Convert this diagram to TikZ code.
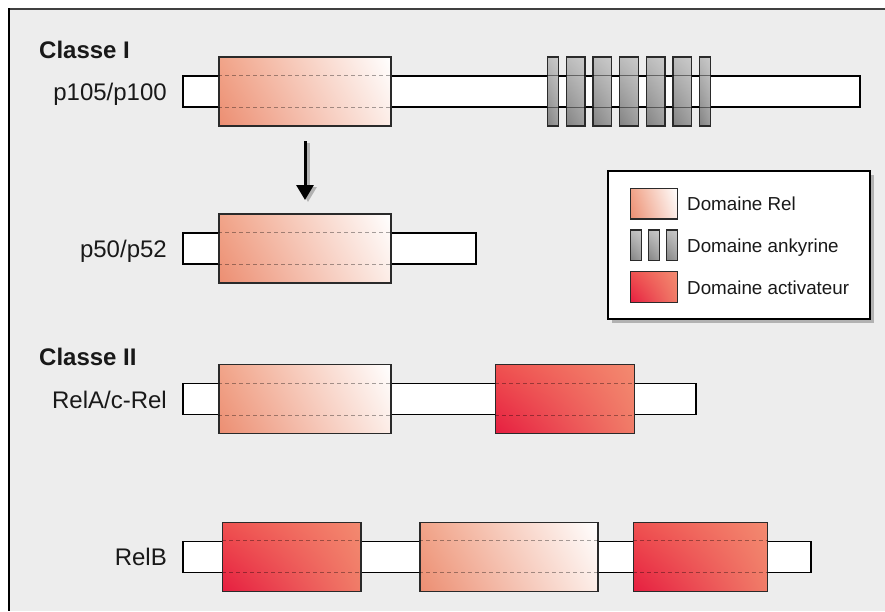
\documentclass[tikz,border=0pt]{standalone}
\usepackage{fontspec}
\setmainfont{Liberation Sans}
\usetikzlibrary{arrows.meta,shadings}
\definecolor{bgc}{HTML}{EDEDED}
\definecolor{relUL}{HTML}{F1A489}
\definecolor{relLL}{HTML}{EC8E72}
\definecolor{relUR}{HTML}{FFFFFF}
\definecolor{relLR}{HTML}{FCEDE7}
\definecolor{actUL}{HTML}{EF5250}
\definecolor{actLL}{HTML}{E61E40}
\definecolor{actUR}{HTML}{F38A70}
\definecolor{actLR}{HTML}{F07C68}
\definecolor{ankUL}{HTML}{BDBDBD}
\definecolor{ankUR}{HTML}{CACACA}
\definecolor{ankLL}{HTML}{828282}
\definecolor{ankLR}{HTML}{9E9E9E}
\definecolor{edge}{HTML}{2A2A2A}
\begin{document}
\begin{tikzpicture}[x=1pt,y=-1pt,
  barbox/.style={draw=black, fill=white, line width=1.2pt, inner sep=0pt, minimum height=31pt},
  dombox/.style={draw=edge, line width=1.2pt, inner sep=0pt, minimum height=69pt},
  relbox/.style={dombox, shade, upper left=relUL, lower left=relLL, upper right=relUR, lower right=relLR},
  actbox/.style={dombox, shade, upper left=actUL, lower left=actLL, upper right=actUR, lower right=actLR},
  ankbox/.style={dombox, shade, upper left=ankUL, lower left=ankLL, upper right=ankUR, lower right=ankLR},
  swrel/.style={relbox, minimum width=46.6pt, minimum height=30.7pt},
  swact/.style={actbox, minimum width=46.6pt, minimum height=30.7pt},
  swank/.style={ankbox, minimum width=11pt, minimum height=30.7pt},
  inline/.style={line width=0.8pt, dash pattern=on 4pt off 3pt, draw opacity=0.35},
  ankline/.style={line width=1.2pt, draw opacity=0.45},
  lbl/.style={anchor=base east, inner sep=0pt, font=\fontsize{24}{28}\selectfont, text=black!90},
  cls/.style={anchor=base west, inner sep=0pt, font=\fontsize{24}{28}\selectfont\bfseries, text=black!90},
  legtxt/.style={anchor=base west, inner sep=0pt, font=\fontsize{18.8}{22}\selectfont, text=black!90}
]
\useasboundingbox (0,0) rectangle (885,611);
\fill[white] (0,0) rectangle (885,611);
\fill[bgc] (9,9) rectangle (885,611);
\draw[line width=2pt, black!75] (8,9) -- (885,9);
\draw[line width=2pt, black] (9,8) -- (9,611);

% Classe I
\node[cls] (c1) at (39,58.5) {Classe I};
\node[lbl] (l1) at (167,100.5) {p105/p100};
\node[barbox, minimum width=677pt] (bar1) at (521.5,91.5) {};
\node[relbox, minimum width=172pt] (rel1) at (305,91.5) {};
\draw[inline] (rel1.west |- bar1.north) -- (rel1.east |- bar1.north);
\draw[inline] (rel1.west |- bar1.south) -- (rel1.east |- bar1.south);
\foreach \cx/\w [count=\i] in {552.7/11, 575.7/18.7, 602.3/18.7, 629/18.7, 655.7/18.7, 682.3/18.7, 705.2/11}{
  \node[ankbox, minimum width=\w pt] (ank\i) at (\cx,91.5) {};
  \draw[ankline] (ank\i.west |- bar1.north) -- (ank\i.east |- bar1.north);
  \draw[ankline] (ank\i.west |- bar1.south) -- (ank\i.east |- bar1.south);
}

% arrow
\coordinate (a1) at (305,141);
\coordinate (a2) at (305,200);
\draw[black!30, line width=3pt, -{Triangle[width=17pt,length=15pt]}] ([shift={(3,2)}]a1) -- ([shift={(3,2)}]a2);
\draw[black, line width=3pt, -{Triangle[width=17pt,length=15pt]}] (a1) -- (a2);

% p50/p52
\node[lbl] (l2) at (167,257) {p50/p52};
\node[barbox, minimum width=293pt] (bar2) at (329.5,248.5) {};
\node[relbox, minimum width=172pt] (rel2) at (305,248.5) {};
\draw[inline] (rel2.west |- bar2.north) -- (rel2.east |- bar2.north);
\draw[inline] (rel2.west |- bar2.south) -- (rel2.east |- bar2.south);

% legend
\fill[black!30] (612,175) rectangle (874,323);
\node[draw=black, fill=white, line width=1.2pt, inner sep=0pt, minimum width=262pt, minimum height=148pt] (leg) at (739,245) {};
\node[swrel] (swr) at (654,203.6) {};
\node[swank] (swa1) at (636.2,245.3) {};
\node[swank] (swa2) at (653.8,245.3) {};
\node[swank] (swa3) at (671.7,245.3) {};
\node[swact] (swc) at (654,287.2) {};
\node[legtxt] (t1) at (687,210.6) {Domaine Rel};
\node[legtxt] (t2) at (687,252.5) {Domaine ankyrine};
\node[legtxt] (t3) at (687,294) {Domaine activateur};

% Classe II
\node[cls] (c2) at (39,365.5) {Classe II};
\node[lbl] (l3) at (167,408) {RelA/c-Rel};
\node[barbox, minimum width=513pt] (bar3) at (439.5,399) {};
\node[relbox, minimum width=172pt] (rel3) at (305,399) {};
\draw[inline] (rel3.west |- bar3.north) -- (rel3.east |- bar3.north);
\draw[inline] (rel3.west |- bar3.south) -- (rel3.east |- bar3.south);
\node[actbox, minimum width=138.5pt] (act3) at (565,399) {};
\draw[inline] (act3.west |- bar3.north) -- (act3.east |- bar3.north);
\draw[inline] (act3.west |- bar3.south) -- (act3.east |- bar3.south);

% RelB
\node[lbl] (l4) at (167,565) {RelB};
\node[barbox, minimum width=628pt] (bar4) at (497,556.6) {};
\node[actbox, minimum width=138.3pt] (act4a) at (291.8,556.6) {};
\node[relbox, minimum width=178pt] (rel4) at (509,556.6) {};
\node[actbox, minimum width=134pt] (act4b) at (700.3,556.6) {};
\foreach \n in {act4a, rel4, act4b}{
  \draw[inline] (\n.west |- bar4.north) -- (\n.east |- bar4.north);
  \draw[inline] (\n.west |- bar4.south) -- (\n.east |- bar4.south);
}
\end{tikzpicture}
\end{document}
